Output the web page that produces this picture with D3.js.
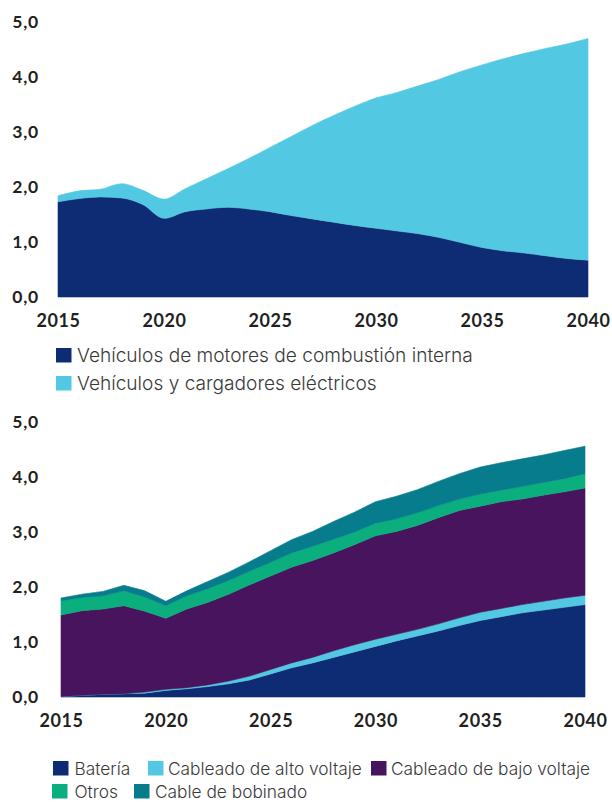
<!DOCTYPE html>
<html><head><meta charset="utf-8">
<script src="https://cdn.jsdelivr.net/npm/d3@7/dist/d3.min.js"></script>
<style>
html,body{margin:0;padding:0;background:#fff;}
svg{display:block;}
.tick-label{font-family:Lato,"Liberation Sans",sans-serif;font-weight:700;fill:#231f20;}
.leg{font-family:Inter,Roboto,"Liberation Sans",sans-serif;font-weight:300;fill:#3a3a3a;}
</style></head>
<body>
<svg id="c" width="612" height="802"></svg>
<script>
// ---------- DATA ----------
const years = d3.range(2015, 2041);
const yTicks = [0, 1, 2, 3, 4, 5];
const yTickLabels = ["0,0", "1,0", "2,0", "3,0", "4,0", "5,0"];
const xTicks = [2015, 2020, 2025, 2030, 2035, 2040];

// Chart 1
const seriesTopNames = ["Vehículos de motores de combustión interna", "Vehículos y cargadores eléctricos"];
const combustion = [1.73,1.79,1.82,1.80,1.68,1.43,1.55,1.60,1.63,1.60,1.55,1.48,1.42,1.36,1.30,1.25,1.20,1.15,1.08,0.99,0.90,0.84,0.80,0.75,0.70,0.67];
const electric   = [0.11,0.14,0.14,0.26,0.26,0.35,0.42,0.55,0.70,0.92,1.17,1.44,1.70,1.94,2.17,2.37,2.52,2.69,2.88,3.11,3.32,3.49,3.63,3.77,3.90,4.03];

// Chart 2
const seriesBottomNames = ["Batería", "Cableado de alto voltaje", "Cableado de bajo voltaje", "Otros", "Cable de bobinado"];
const bateria   = [0.01,0.03,0.05,0.06,0.07,0.12,0.15,0.19,0.24,0.31,0.42,0.53,0.62,0.72,0.82,0.92,1.02,1.11,1.20,1.30,1.39,1.46,1.53,1.58,1.63,1.68];
const altoVolt  = [0.00,0.00,0.00,0.00,0.02,0.02,0.02,0.03,0.05,0.07,0.08,0.09,0.10,0.12,0.13,0.13,0.12,0.12,0.13,0.14,0.15,0.15,0.15,0.16,0.17,0.17];
const bajoVolt  = [1.48,1.54,1.55,1.60,1.47,1.29,1.43,1.50,1.58,1.66,1.70,1.74,1.76,1.78,1.82,1.88,1.87,1.89,1.93,1.95,1.93,1.94,1.92,1.93,1.93,1.95];
const otros     = [0.26,0.24,0.24,0.27,0.26,0.23,0.24,0.25,0.25,0.25,0.25,0.26,0.26,0.25,0.23,0.23,0.23,0.23,0.22,0.21,0.22,0.21,0.23,0.23,0.24,0.26];
const bobinado  = [0.05,0.06,0.08,0.10,0.11,0.08,0.09,0.13,0.15,0.17,0.21,0.24,0.27,0.32,0.36,0.39,0.41,0.42,0.44,0.46,0.49,0.50,0.50,0.50,0.51,0.50];

const colorsTop = ["#0e2c73", "#53c8e3"];
const colorsBottom = ["#0e2c73", "#53c8e3", "#47145d", "#0aaf7d", "#077c8d"];

// ---------- DRAW ----------
const svg = d3.select("#c");

function drawChart(cfg) {
  const x = d3.scaleLinear().domain([2015, 2040]).range(cfg.xRange);
  const y = d3.scaleLinear().domain([0, 5]).range(cfg.yRange);
  const keys = cfg.keys;
  const rows = years.map((yr, i) => {
    const r = {year: yr};
    keys.forEach((k, j) => r[k] = cfg.values[j][i]);
    return r;
  });
  const stacked = d3.stack().keys(keys)(rows);
  const area = d3.area()
    .x(d => x(d.data.year))
    .y0(d => y(d[0]))
    .y1(d => y(d[1]))
    .curve(cfg.curve);
  const g = svg.append("g");
  g.selectAll("path").data(stacked).join("path")
    .attr("d", area)
    .attr("fill", (d, i) => cfg.colors[i])
    .attr("stroke", (d, i) => cfg.colors[i])
    .attr("stroke-width", 0.6);

  const yAxis = d3.axisLeft(y).tickValues(yTicks).tickFormat((d, i) => yTickLabels[i]).tickSize(0).tickPadding(0);
  const ya = svg.append("g").attr("transform", `translate(${cfg.yLabelX},0)`).call(yAxis);
  ya.select(".domain").remove();
  ya.selectAll("text").attr("class", "tick-label").attr("font-size", 17.5)
    .attr("dy", "0.36em").attr("y", -1).style("letter-spacing", "0.8px");

  const xAxis = d3.axisBottom(x).tickValues(xTicks).tickFormat(d3.format("d")).tickSize(0).tickPadding(0);
  const xa = svg.append("g").attr("transform", `translate(0,${cfg.xLabelY})`).call(xAxis);
  xa.select(".domain").remove();
  xa.selectAll("text").attr("class", "tick-label").attr("font-size", 18)
    .attr("dy", 0).attr("y", 0).style("letter-spacing", "0.6px");
}

drawChart({
  xRange: [58, 588], yRange: [297, 22],
  keys: ["comb", "ev"], values: [combustion, electric], colors: colorsTop,
  curve: d3.curveMonotoneX, yLabelX: 39, xLabelY: 327
});

drawChart({
  xRange: [61, 585], yRange: [697, 422],
  keys: ["bat", "hv", "lv", "otr", "bob"], values: [bateria, altoVolt, bajoVolt, otros, bobinado], colors: colorsBottom,
  curve: d3.curveLinear, yLabelX: 39, xLabelY: 727
});

// ---------- LEGENDS ----------
// font sizes fitted so a reference legend label spans its measured width
function fitFont(text, target) {
  const probe = svg.append("text").attr("class", "leg").attr("font-size", 18).text(text);
  const w = probe.node().getComputedTextLength();
  probe.remove();
  return 18 * target / w;
}
const legFontTop = fitFont(seriesTopNames[0], 396);
const legFontBottom = fitFont(seriesBottomNames[1], 194);

function legend(items, fs) {
  const g = svg.append("g");
  items.forEach(it => {
    g.append("rect").attr("x", it.sx).attr("y", it.sy).attr("width", 15.5).attr("height", 14.5).attr("fill", it.color);
    g.append("text").attr("class", "leg").attr("font-size", fs)
      .attr("x", it.tx).attr("y", it.sy + 7.5).attr("dy", "0.36em").text(it.name);
  });
}
legend([
  {name: seriesTopNames[0], color: colorsTop[0], sx: 56, sy: 348, tx: 77},
  {name: seriesTopNames[1], color: colorsTop[1], sx: 56, sy: 376, tx: 77}
], legFontTop);
legend([
  {name: seriesBottomNames[0], color: colorsBottom[0], sx: 53, sy: 761, tx: 74.5},
  {name: seriesBottomNames[1], color: colorsBottom[1], sx: 148, sy: 761, tx: 168},
  {name: seriesBottomNames[2], color: colorsBottom[2], sx: 371, sy: 761, tx: 391},
  {name: seriesBottomNames[3], color: colorsBottom[3], sx: 52, sy: 784, tx: 74.5},
  {name: seriesBottomNames[4], color: colorsBottom[4], sx: 134, sy: 784, tx: 155}
], legFontBottom);
</script>
</body></html>
